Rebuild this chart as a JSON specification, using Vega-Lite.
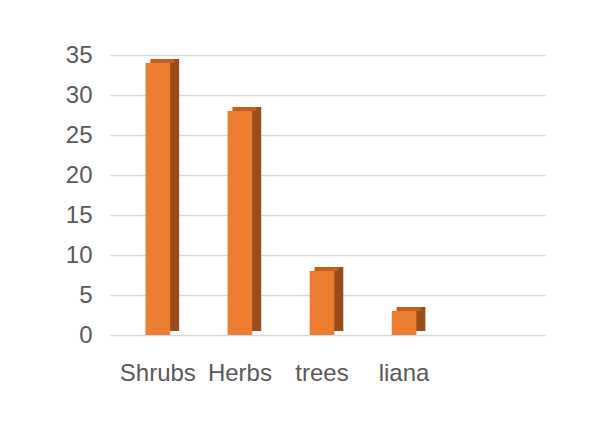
{
  "$schema": "https://vega.github.io/schema/vega-lite/v6.json",
  "autosize": "none",
  "width": 435,
  "height": 280,
  "padding": {"left": 110, "top": 55, "right": 55, "bottom": 108},
  "background": "white",
  "config": {
    "view": {"stroke": null},
    "font": "Liberation Sans"
  },
  "data": {
    "values": [
      {"type": "Shrubs", "count": 34},
      {"type": "Herbs", "count": 28},
      {"type": "trees", "count": 8},
      {"type": "liana", "count": 3}
    ]
  },
  "encoding": {
    "x": {
      "field": "type",
      "type": "nominal",
      "sort": null,
      "scale": {"paddingInner": 0.7, "paddingOuter": 1.06875, "align": 0.2164},
      "axis": {
        "title": null,
        "labelAngle": 0,
        "labelFontSize": 24,
        "labelColor": "#595959",
        "labelPadding": 26,
        "domain": false,
        "ticks": false,
        "grid": false
      }
    },
    "y": {
      "field": "count",
      "type": "quantitative",
      "scale": {"domain": [0, 35], "nice": false},
      "axis": {
        "title": null,
        "values": [0, 5, 10, 15, 20, 25, 30, 35],
        "labelFontSize": 24,
        "labelColor": "#595959",
        "labelPadding": 18,
        "domain": false,
        "ticks": false,
        "grid": true,
        "gridColor": "#D9D9D9",
        "gridWidth": 1.5
      }
    }
  },
  "layer": [
    {"mark": {"type": "bar", "color": "#9A4C1B", "xOffset": 9, "yOffset": -4}},
    {"mark": {"type": "tick", "orient": "horizontal", "color": "#C55F1C", "size": 24, "thickness": 4, "xOffset": 4.5, "yOffset": -2, "opacity": 1}},
    {"mark": {"type": "bar", "color": "#ED7D31"}}
  ]
}
